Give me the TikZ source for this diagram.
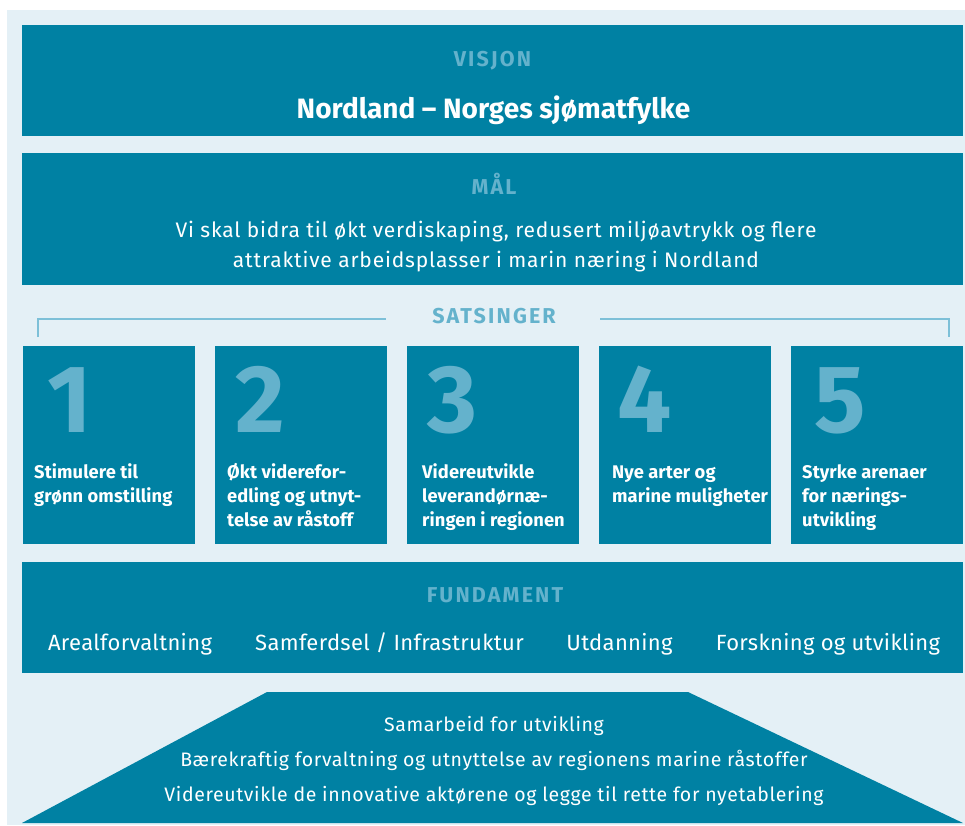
\documentclass[tikz,border=0pt]{standalone}
\usepackage{fontspec}
\setmainfont{Fira Sans}
\definecolor{sjo}{RGB}{0,129,163}
\definecolor{bgl}{RGB}{228,240,246}
\definecolor{lbl}{RGB}{100,178,204}
\definecolor{brk}{RGB}{125,192,216}
\tikzset{
  panel/.style={fill=sjo, draw=none, inner sep=0pt, anchor=north west},
  lab/.style={text=lbl, anchor=base, inner sep=0pt, font=\fontsize{21.5}{25}\selectfont\bfseries\addfontfeature{LetterSpace=10}},
  wtxt/.style={text=white, anchor=base, inner sep=0pt, font=\fontsize{21}{25}\selectfont\addfontfeature{LetterSpace=4}},
  digit/.style={text=lbl, anchor=base west, inner sep=0pt, font=\fontsize{96}{100}\selectfont\bfseries},
  btxt/.style={text=white, anchor=base west, inner sep=0pt, font=\fontsize{18.3}{22}\selectfont\bfseries\addfontfeature{LetterSpace=0.5}},
  ftxt/.style={text=white, anchor=base, inner sep=0pt, font=\fontsize{22}{26}\selectfont\addfontfeature{LetterSpace=1.5}},
  ttxt/.style={text=white, anchor=base, inner sep=0pt, font=\fontsize{19.5}{23}\selectfont\addfontfeature{LetterSpace=3.2}},
}
\begin{document}
\begin{tikzpicture}[x=1pt,y=-1pt]
\useasboundingbox (0,0) rectangle (965,825);
\fill[bgl] (7,10) rectangle (965,825);

% VISJON
\node[panel, minimum width=941pt, minimum height=111pt] (visjon) at (22,25) {};
\node[lab] (visjonlab) at (492.5,66) {VISJON};
\node[text=white, anchor=base, inner sep=0pt, font=\fontsize{28}{32}\selectfont\bfseries] (visjontxt) at (493.5,118) {Nordland – Norges sjømatfylke};

% MAL
\node[panel, minimum width=941pt, minimum height=132pt] (mal) at (22,153) {};
\node[lab] (mallab) at (494,194) {MÅL};
\node[wtxt] (maltxt1) at (496,237) {Vi skal bidra til økt verdiskaping, redusert miljøavtrykk og flere};
\node[wtxt] (maltxt2) at (496,267) {attraktive arbeidsplasser i marin næring i Nordland};

% SATSINGER
\node[lab] (satslab) at (494,323) {SATSINGER};
\coordinate (bl) at (38,337);
\coordinate (br) at (949,337);
\draw[brk, line width=1.6pt] (bl) |- (386,319);
\draw[brk, line width=1.6pt] (600,319) -| (br);

% Boxes
\foreach \i/\off/\doff/\n/\la/\lb/\lc in {
  1/11/24/1/Stimulere til/grønn omstilling/,
  2/12/20/2/Økt viderefor-/edling og utnyt-/telse av råstoff,
  3/15/20/3/Videreutvikle/leverandørnæ-/ringen i regionen,
  4/13/18/4/Nye arter og/marine muligheter/,
  5/11/23/5/Styrke arenaer/for nærings-/utvikling}{
  \pgfmathsetmacro{\bx}{23+192*(\i-1)}
  \node[panel, minimum width=172pt, minimum height=198pt] (box\i) at (\bx,346) {};
  \node[digit] (num\i) at (\bx+\doff,432) {\n};
  \node[btxt] (box\i a) at (\bx+\off,478) {\la};
  \node[btxt] (box\i b) at (\bx+\off,502) {\lb};
  \node[btxt] (box\i c) at (\bx+\off,526) {\lc};
}

% FUNDAMENT
\node[panel, minimum width=941pt, minimum height=111pt] (fund) at (22,562) {};
\node[lab] (fundlab) at (495,602) {FUNDAMENT};
\node[ftxt] (f1) at (130,650) {Arealforvaltning};
\node[ftxt] (f2) at (389.5,650) {Samferdsel / Infrastruktur};
\node[ftxt] (f3) at (619.5,650) {Utdanning};
\node[ftxt] (f4) at (828,650) {Forskning og utvikling};

% Trapezoid
\fill[sjo] (22,823) -- (267,692) -- (688,692) -- (963,823) -- cycle;
\node[ttxt] (t1) at (494,731) {Samarbeid for utvikling};
\node[ttxt] (t2) at (494,766) {Bærekraftig forvaltning og utnyttelse av regionens marine råstoffer};
\node[ttxt] (t3) at (494,801) {Videreutvikle de innovative aktørene og legge til rette for nyetablering};
\end{tikzpicture}
\end{document}
